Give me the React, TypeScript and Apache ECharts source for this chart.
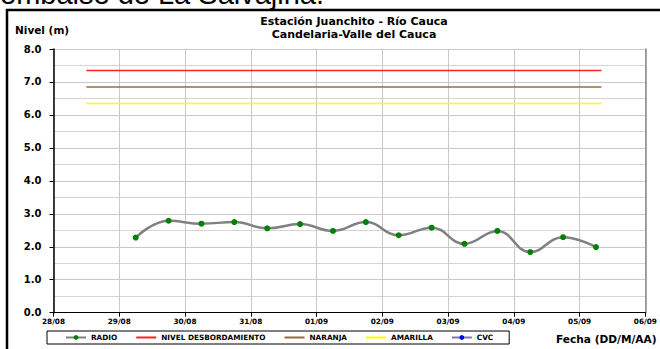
import React, { useEffect, useRef } from "react";
import * as echarts from "echarts";

const YEAR = 2010;
const DAY = 86400000;

// RADIO readings (DD/MM HH:mm)
const radioDates = [
  "29/08 06:00", "29/08 18:00", "30/08 06:00", "30/08 18:00", "31/08 06:00",
  "31/08 18:00", "01/09 06:00", "01/09 18:00", "02/09 06:00", "02/09 18:00",
  "03/09 06:00", "03/09 18:00", "04/09 06:00", "04/09 18:00", "05/09 06:00",
];
const radioValues = [2.28, 2.79, 2.7, 2.75, 2.56, 2.69, 2.48, 2.75, 2.35, 2.58, 2.09, 2.48, 1.84, 2.29, 1.99];

// Threshold levels
const thresholdNames = ["NIVEL DESBORDAMIENTO", "NARANJA", "AMARILLA"];
const thresholdValues = [7.35, 6.85, 6.35];
const thresholdColors = ["#ff2020", "#9a6a3a", "#ffff00"];
const thresholdSpan = ["28/08 12:00", "05/09 08:00"];

const cvcValues: number[] = [];

const axisStart = "28/08 00:00";
const axisEnd = "06/09 00:00";
const yTicks = ["0.0", "1.0", "2.0", "3.0", "4.0", "5.0", "6.0", "7.0", "8.0"];

const titleLines = ["Estación Juanchito - Río Cauca", "Candelaria-Valle del Cauca"];

function parseDate(s: string): number {
  const [d, t] = s.split(" ");
  const [dd, mm] = d.split("/").map(Number);
  const [hh, mi] = t.split(":").map(Number);
  return Date.UTC(YEAR, mm - 1, dd, hh, mi);
}

const pad = (n: number) => (n < 10 ? "0" + n : "" + n);
const FONT = "'Liberation Sans', Arial, sans-serif";
const BFONT = "'DejaVu Sans', sans-serif";

export default function App() {
  const ref = useRef<HTMLDivElement>(null);
  useEffect(() => {
    if (!ref.current) return;
    const chart = echarts.init(ref.current, undefined, { renderer: "svg" });
    const xMin = parseDate(axisStart);
    const xMax = parseDate(axisEnd);
    const series: any[] = [
      {
        name: "RADIO",
        type: "line",
        smooth: 0.45,
        data: radioDates.map((d, i) => [parseDate(d), radioValues[i]]),
        symbol: "circle",
        symbolSize: 6,
        itemStyle: { color: "#008000" },
        lineStyle: { color: "#808080", width: 2.5 },
        z: 5,
      },
      ...thresholdNames.map((n, i) => ({
        name: n,
        type: "line",
        data: thresholdSpan.map((d) => [parseDate(d), thresholdValues[i]]),
        symbol: "none",
        itemStyle: { color: thresholdColors[i] },
        lineStyle: { color: thresholdColors[i], width: 1.5 },
      })),
      {
        name: "CVC",
        type: "line",
        data: cvcValues,
        symbol: "circle",
        symbolSize: 5,
        itemStyle: { color: "#0000ff" },
        lineStyle: { color: "#7a7aa8", width: 1.5 },
      },
    ];
    chart.setOption({
      animation: false,
      backgroundColor: "#ffffff",
      textStyle: { fontFamily: BFONT },
      grid: { left: 53.5, right: 14.7, top: 49, bottom: 36.3, containLabel: false, outerBoundsMode: "none" },
      legend: {
        data: [
          "RADIO",
          ...thresholdNames.map((n) => ({ name: n, itemStyle: { opacity: 0 } })),
          "CVC",
        ],
        left: 47,
        top: 331,
        orient: "horizontal",
        padding: [3, 16, 3, 18],
        borderColor: "#000",
        borderWidth: 1,
        itemWidth: 20,
        itemHeight: 6,
        itemGap: 18,
        textStyle: { fontSize: 7.3, fontWeight: "bold", color: "#000", fontFamily: BFONT },
      },
      xAxis: {
        type: "value",
        min: xMin,
        max: xMax,
        interval: DAY,
        axisLine: { show: true, lineStyle: { color: "#000", width: 1.2 } },
        axisTick: { show: true, length: 4, lineStyle: { color: "#000" } },
        axisLabel: {
          margin: 5,
          fontSize: 7.3,
          fontWeight: "bold",
          color: "#000",
          fontFamily: BFONT,
          showMinLabel: true,
          showMaxLabel: true,
          formatter: (v: number) => {
            const d = new Date(v);
            return pad(d.getUTCDate()) + "/" + pad(d.getUTCMonth() + 1);
          },
        },
        splitLine: { show: true, lineStyle: { color: "#c8c8c8", width: 1 } },
      },
      yAxis: [
        {
          type: "value",
          min: 0,
          max: 8,
          interval: 1,
          axisLine: { show: true, lineStyle: { color: "#000", width: 1.5 } },
          axisTick: { show: true, length: 4, lineStyle: { color: "#000" } },
          axisLabel: {
            margin: 12,
            fontSize: 10,
            fontWeight: "bold",
            color: "#000",
            fontFamily: BFONT,
            formatter: (v: number) => yTicks[Math.round(v)] ?? v.toFixed(1),
          },
          splitLine: { show: true, lineStyle: { color: "#c8c8c8", width: 1 } },
          minorTick: { show: false, splitNumber: 2 },
          minorSplitLine: { show: true, lineStyle: { color: "#d4d4d4", width: 1 } },
        },
        {
          type: "value",
          position: "right",
          min: 0,
          max: 8,
          interval: 1,
          axisLine: { show: true, lineStyle: { color: "#888", width: 1.5 } },
          axisTick: { show: false },
          axisLabel: { show: false },
          splitLine: { show: false },
        },
      ],
      graphic: [
        {
          type: "rect",
          shape: { x: 7, y: 10, width: 800, height: 500 },
          style: { fill: "none", stroke: "#000", lineWidth: 2.5 },
          silent: true,
        },
        {
          type: "text",
          x: 0,
          y: -6,
          style: {
            text: "embalse de La Salvajina.",
            font: "29px " + FONT,
            fill: "#000",
            textAlign: "left",
            textVerticalAlign: "middle",
          },
        },
        ...titleLines.map((t, i) => ({
          type: "text",
          x: 354,
          y: 21.5 + i * 12.5,
          style: {
            text: t,
            font: "bold 11px " + BFONT,
            fill: "#000",
            textAlign: "center",
            textVerticalAlign: "middle",
          },
        })),
        {
          type: "text",
          x: 15,
          y: 30,
          style: {
            text: "Nivel (m)",
            font: "bold 10.5px " + BFONT,
            fill: "#000",
            textAlign: "left",
            textVerticalAlign: "middle",
          },
        },
        {
          type: "text",
          x: 556,
          y: 339,
          style: {
            text: "Fecha (DD/M/AA)",
            font: "bold 10.6px " + BFONT,
            fill: "#000",
            textAlign: "left",
            textVerticalAlign: "middle",
          },
        },
      ],
      series,
    });
    return () => chart.dispose();
  }, []);
  return (
    <div
      ref={ref}
      style={{ position: "fixed", left: 0, top: 0, width: 660, height: 349 }}
    />
  );
}
